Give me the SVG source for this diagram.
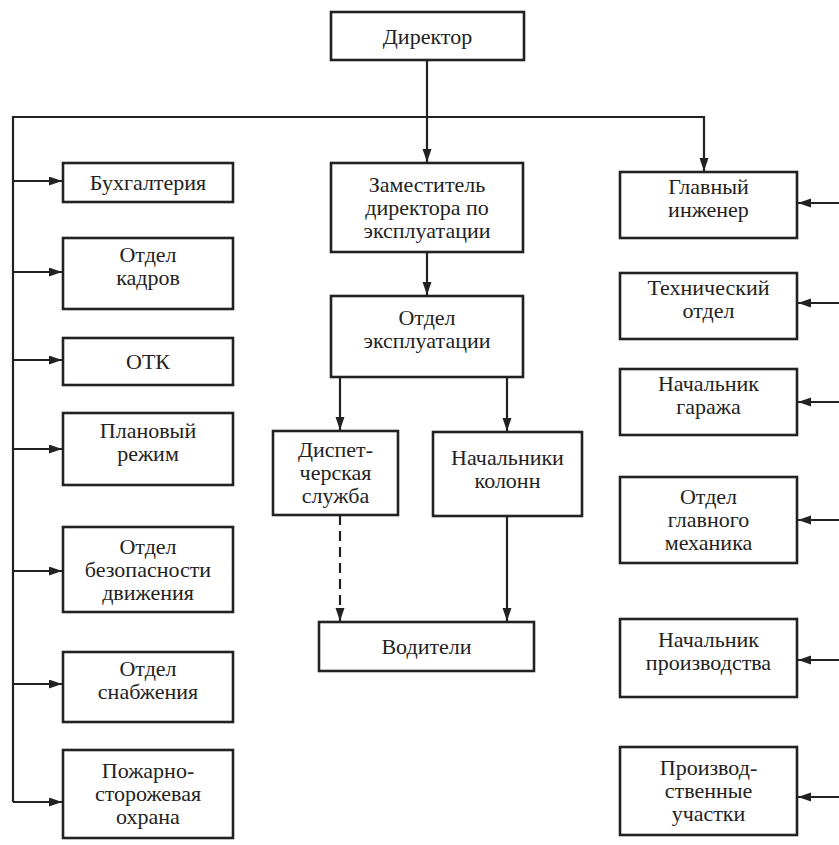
<svg xmlns="http://www.w3.org/2000/svg" width="839" height="845" viewBox="0 0 839 845">
<style>
.box rect{fill:#fff;stroke:#222;stroke-width:2.6}
text{font-family:"Liberation Serif","Times New Roman",serif;font-size:22px;fill:#222;text-anchor:middle}
.c{fill:none;stroke:#222;stroke-width:2.2}
.d{stroke-dasharray:10,6}
</style>
<defs>
<marker id="ah" markerUnits="userSpaceOnUse" markerWidth="14" markerHeight="10" refX="13" refY="4.5" orient="auto">
<path d="M0,0 L13,4.5 L0,9 Z" fill="#222"/>
</marker>
</defs>
<rect width="839" height="845" fill="#fff"/>
<g id="connectors">
<path class="c" d="M427,60 V162" marker-end="url(#ah)"/>
<path class="c" d="M13,802 V117 H704 V171" marker-end="url(#ah)"/>
<path class="c" d="M13,181 H62" marker-end="url(#ah)"/>
<path class="c" d="M13,272 H62" marker-end="url(#ah)"/>
<path class="c" d="M13,360 H62" marker-end="url(#ah)"/>
<path class="c" d="M13,449 H62" marker-end="url(#ah)"/>
<path class="c" d="M13,571 H62" marker-end="url(#ah)"/>
<path class="c" d="M13,684 H62" marker-end="url(#ah)"/>
<path class="c" d="M13,802 H62" marker-end="url(#ah)"/>
<path class="c" d="M427,252 V295" marker-end="url(#ah)"/>
<path class="c" d="M340,377 V430" marker-end="url(#ah)"/>
<path class="c" d="M507,377 V431" marker-end="url(#ah)"/>
<path class="c d" d="M340,515 V621" marker-end="url(#ah)"/>
<path class="c" d="M507,516 V621" marker-end="url(#ah)"/>
<path class="c" d="M839,203 H798" marker-end="url(#ah)"/>
<path class="c" d="M839,303 H798" marker-end="url(#ah)"/>
<path class="c" d="M839,402 H798" marker-end="url(#ah)"/>
<path class="c" d="M839,520 H798" marker-end="url(#ah)"/>
<path class="c" d="M839,660 H798" marker-end="url(#ah)"/>
<path class="c" d="M839,797 H798" marker-end="url(#ah)"/>
</g>
<g id="director" class="box"><rect x="331" y="12" width="193" height="48"/><text x="427.5" y="43.5">Директор</text></g>
<g id="buh" class="box"><rect x="63" y="163" width="170" height="39"/><text x="148" y="190">Бухгалтерия</text></g>
<g id="kadry" class="box"><rect x="63" y="238" width="170" height="71"/><text x="148" y="262">Отдел</text><text x="148" y="285">кадров</text></g>
<g id="otk" class="box"><rect x="63" y="338" width="170" height="47"/><text x="148" y="369">ОТК</text></g>
<g id="plan" class="box"><rect x="63" y="413" width="170" height="72"/><text x="148" y="437.5">Плановый</text><text x="148" y="460.5">режим</text></g>
<g id="bezop" class="box"><rect x="63" y="527" width="170" height="85"/><text x="148" y="553.5">Отдел</text><text x="148" y="576.5">безопасности</text><text x="148" y="599.5">движения</text></g>
<g id="snab" class="box"><rect x="63" y="652" width="170" height="70"/><text x="148" y="675.5">Отдел</text><text x="148" y="698.5">снабжения</text></g>
<g id="pozhar" class="box"><rect x="63" y="750" width="170" height="88"/><text x="148" y="778">Пожарно-</text><text x="148" y="801">сторожевая</text><text x="148" y="824">охрана</text></g>
<g id="zam" class="box"><rect x="331" y="163" width="192" height="89"/><text x="427" y="191.5">Заместитель</text><text x="427" y="214.5">директора по</text><text x="427" y="237.5">эксплуатации</text></g>
<g id="otdexpl" class="box"><rect x="331" y="296" width="192" height="81"/><text x="427" y="325">Отдел</text><text x="427" y="348">эксплуатации</text></g>
<g id="disp" class="box"><rect x="273" y="431" width="125" height="84"/><text x="335.5" y="457">Диспет-</text><text x="335.5" y="480">черская</text><text x="335.5" y="503">служба</text></g>
<g id="nachkol" class="box"><rect x="433" y="432" width="149" height="84"/><text x="507.5" y="465">Начальники</text><text x="507.5" y="488">колонн</text></g>
<g id="vod" class="box"><rect x="319" y="622" width="215" height="49"/><text x="426.5" y="654">Водители</text></g>
<g id="glinzh" class="box"><rect x="620" y="172" width="177" height="66"/><text x="708.5" y="193.5">Главный</text><text x="708.5" y="216.5">инженер</text></g>
<g id="tech" class="box"><rect x="620" y="273" width="177" height="66"/><text x="708.5" y="294.5">Технический</text><text x="708.5" y="317.5">отдел</text></g>
<g id="garazh" class="box"><rect x="620" y="369" width="177" height="66"/><text x="708.5" y="390.5">Начальник</text><text x="708.5" y="413.5">гаража</text></g>
<g id="mech" class="box"><rect x="620" y="477" width="177" height="86"/><text x="708.5" y="504">Отдел</text><text x="708.5" y="527">главного</text><text x="708.5" y="550">механика</text></g>
<g id="proizv" class="box"><rect x="620" y="619" width="177" height="78"/><text x="708.5" y="646.5">Начальник</text><text x="708.5" y="669.5">производства</text></g>
<g id="uchastki" class="box"><rect x="620" y="747" width="177" height="88"/><text x="708.5" y="775">Производ-</text><text x="708.5" y="798">ственные</text><text x="708.5" y="821">участки</text></g>
</svg>
